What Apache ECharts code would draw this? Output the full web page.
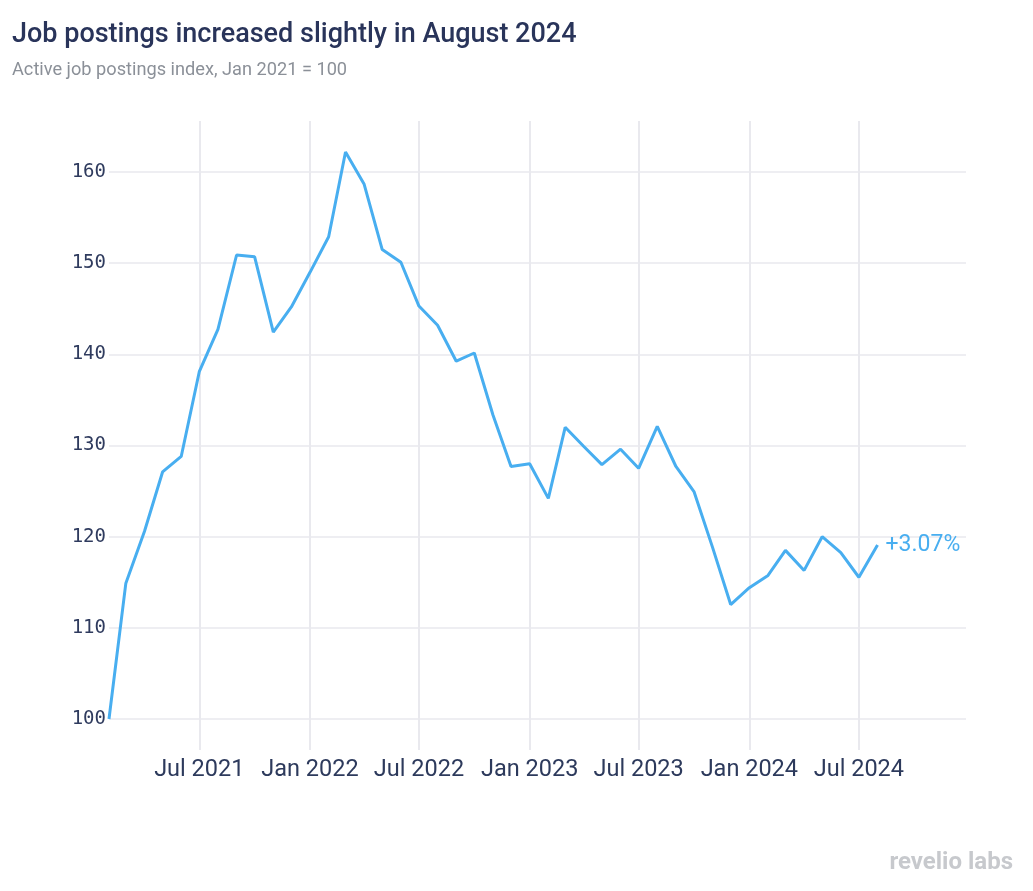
<!DOCTYPE html>
<html>
<head>
<meta charset="utf-8">
<script src="https://cdn.jsdelivr.net/npm/echarts@6/dist/echarts.min.js"></script>
<style>
  html, body { margin: 0; padding: 0; background: #ffffff; }
  #chart { width: 1033px; height: 891px; }
</style>
</head>
<body>
<div id="chart"></div>
<script>
// ---- data ----
const dates = [
  '2021-02-01','2021-03-01','2021-04-01','2021-05-01','2021-06-01','2021-07-01','2021-08-01','2021-09-01','2021-10-01','2021-11-01','2021-12-01',
  '2022-01-01','2022-02-01','2022-03-01','2022-04-01','2022-05-01','2022-06-01','2022-07-01','2022-08-01','2022-09-01','2022-10-01','2022-11-01','2022-12-01',
  '2023-01-01','2023-02-01','2023-03-01','2023-04-01','2023-05-01','2023-06-01','2023-07-01','2023-08-01','2023-09-01','2023-10-01','2023-11-01','2023-12-01',
  '2024-01-01','2024-02-01','2024-03-01','2024-04-01','2024-05-01','2024-06-01','2024-07-01','2024-08-01'
];
const postingsIndex = [
  100, 114.9, 120.6, 127.1, 128.8, 138.1, 142.75, 150.9, 150.7, 142.45, 145.2,
  149.0, 152.9, 162.2, 158.65, 151.5, 150.1, 145.3, 143.2, 139.25, 140.15, 133.35, 127.7,
  128.0, 124.2, 132.0, 129.9, 127.9, 129.6, 127.5, 132.1, 127.7, 124.95, 118.8, 112.56,
  114.4, 115.75, 118.5, 116.3, 120.0, 118.25, 115.55, 119.1
];
const yTicks = [100, 110, 120, 130, 140, 150, 160];
const xTicks = ['2021-07-01','2022-01-01','2022-07-01','2023-01-01','2023-07-01','2024-01-01','2024-07-01'];
const monthNames = ['Jan','Feb','Mar','Apr','May','Jun','Jul','Aug','Sep','Oct','Nov','Dec'];
const titleText = 'Job postings increased slightly in August 2024';
const subtitleText = 'Active job postings index, Jan 2021 = 100';
const brandText = 'revelio labs';

function ts(s) {
  const p = s.split('-').map(Number);
  return new Date(p[0], p[1] - 1, p[2]).getTime();
}
const seriesData = dates.map((d, i) => [ts(d), postingsIndex[i]]);
const xTickValues = xTicks.map(ts);
const n = postingsIndex.length;
const lastChange = (postingsIndex[n - 1] / postingsIndex[n - 2] - 1) * 100;

const chart = echarts.init(document.getElementById('chart'), null, { renderer: 'canvas' });
const gridColor = '#e9e9ee';
const option = {
  backgroundColor: '#ffffff',
  animation: false,
  title: [
    {
      text: titleText, left: 7, top: 17,
      textStyle: { fontFamily: 'Roboto', fontWeight: 500, fontSize: 27, color: '#29345a' }
    },
    {
      text: subtitleText, left: 7, top: 56,
      textStyle: { fontFamily: 'Roboto', fontWeight: 400, fontSize: 18.2, color: '#8b9098' }
    }
  ],
  grid: { left: 109, right: 67, top: 121, bottom: 141, containLabel: false },
  xAxis: {
    type: 'value',
    min: ts('2021-02-01'),
    max: ts('2024-12-26'),
    axisLine: { show: false },
    axisTick: { show: false, customValues: xTickValues },
    axisLabel: {
      customValues: xTickValues,
      margin: 8,
      fontFamily: 'Roboto', fontSize: 23.5, color: '#2d3a5c',
      formatter: function (v) {
        const d = new Date(v);
        return monthNames[d.getMonth()] + ' ' + d.getFullYear();
      }
    },
    splitLine: { show: true, lineStyle: { color: gridColor, width: 2 } }
  },
  yAxis: {
    type: 'value',
    min: 96.6,
    max: 165.6,
    axisLine: { show: false },
    axisTick: { show: false, customValues: yTicks },
    axisLabel: {
      customValues: yTicks,
      margin: 3,
      fontFamily: 'DejaVu Sans Mono', fontSize: 19, color: '#2f3b5e'
    },
    splitLine: { show: true, lineStyle: { color: gridColor, width: 1.5 } }
  },
  series: [{
    type: 'line',
    data: seriesData,
    symbol: 'none',
    lineStyle: { color: '#48aef0', width: 3 },
    endLabel: {
      show: true,
      distance: 8,
      fontFamily: 'Roboto', fontSize: 23, color: '#48aef0',
      formatter: function () { return (lastChange >= 0 ? '+' : '') + lastChange.toFixed(2) + '%'; }
    }
  }],
  graphic: [{
    type: 'text',
    right: 20,
    bottom: 16,
    style: {
      text: brandText,
      font: 'bold 24px Roboto',
      fill: '#c7c9cd'
    }
  }]
};
chart.setOption(option);
</script>
</body>
</html>
